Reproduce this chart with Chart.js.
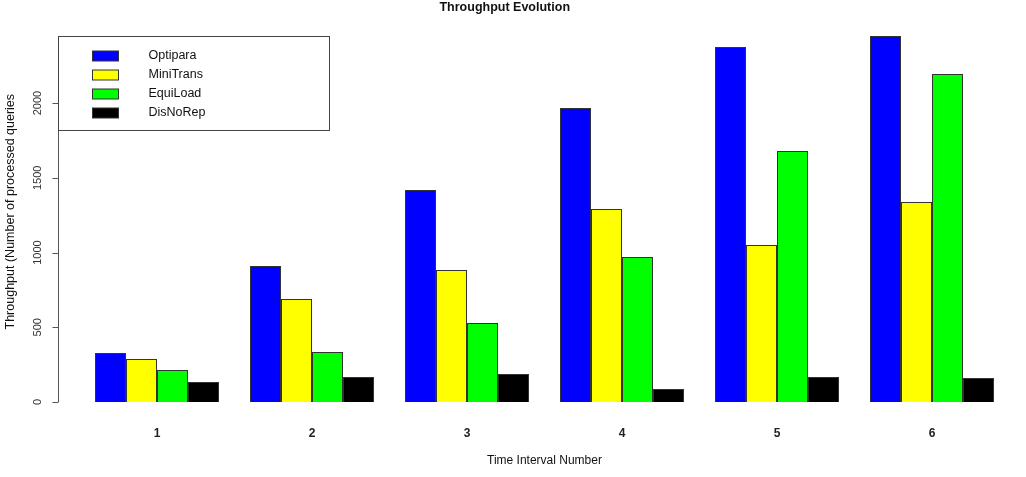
<!DOCTYPE html>
<html>
<head>
<meta charset="utf-8">
<script src="https://cdn.jsdelivr.net/npm/chart.js@4.4.0/dist/chart.umd.min.js"></script>
<style>
  html, body { margin: 0; padding: 0; background: #fff; }
</style>
</head>
<body>
<canvas id="throughputChart" width="1026" height="477"></canvas>
<script>
// data
const intervals = ['1', '2', '3', '4', '5', '6'];
const optipara = [328, 910, 1418, 1967, 2375, 2448];
const miniTrans = [288, 689, 883, 1291, 1050, 1338];
const equiLoad = [214, 334, 528, 970, 1679, 2194];
const disNoRep = [134, 167, 187, 87, 167, 160];
const yTicks = [0, 500, 1000, 1500, 2000];

const fontFamily = '"Liberation Sans", Arial, sans-serif';

// R style y axis (only spans the tick range) plus the boxed legend top-left
const rAxisAndLegend = {
    id: 'rAxisAndLegend',
    afterDraw(chart) {
        const ctx = chart.ctx;
        const yScale = chart.scales.y;
        const axisX = Math.round(chart.chartArea.left - 21.5) + 0.5;
        ctx.save();
        ctx.strokeStyle = '#555';
        ctx.lineWidth = 1;
        ctx.beginPath();
        ctx.moveTo(axisX, yScale.getPixelForValue(yTicks[0]));
        ctx.lineTo(axisX, yScale.getPixelForValue(yTicks[yTicks.length - 1]));
        yTicks.forEach(v => {
            const py = Math.round(yScale.getPixelForValue(v)) + 0.5;
            ctx.moveTo(axisX, py);
            ctx.lineTo(axisX - 6, py);
        });
        ctx.stroke();

        // legend
        const lx = axisX, ly = 36.5, lw = 271, lh = 94;
        ctx.strokeStyle = '#444';
        ctx.strokeRect(lx, ly, lw, lh);
        ctx.font = '12.5px ' + fontFamily;
        ctx.textBaseline = 'middle';
        chart.data.datasets.forEach((ds, i) => {
            const ry = Math.round(ly + 19 + i * 19.3);
            ctx.fillStyle = ds.backgroundColor;
            ctx.fillRect(lx + 34, ry - 5, 26, 10);
            ctx.strokeStyle = '#333';
            ctx.strokeRect(lx + 34, ry - 5, 26, 10);
            ctx.fillStyle = '#111';
            ctx.fillText(ds.label, lx + 90, ry);
        });
        ctx.restore();
    }
};

const ctx = document.getElementById('throughputChart').getContext('2d');
new Chart(ctx, {
    type: 'bar',
    data: {
        labels: intervals,
        datasets: [
            { label: 'Optipara', data: optipara, backgroundColor: '#0000ff' },
            { label: 'MiniTrans', data: miniTrans, backgroundColor: '#ffff00' },
            { label: 'EquiLoad', data: equiLoad, backgroundColor: '#00ff00' },
            { label: 'DisNoRep', data: disNoRep, backgroundColor: '#000000' }
        ].map(ds => Object.assign(ds, {
            borderColor: '#333',
            borderWidth: 1,
            categoryPercentage: 0.8,
            barPercentage: 1.0
        }))
    },
    options: {
        responsive: false,
        animation: false,
        devicePixelRatio: 1,
        layout: { padding: { left: 0, right: 16.5, top: 0, bottom: 0 } },
        plugins: {
            legend: { display: false },
            tooltip: { enabled: false },
            title: {
                display: true,
                text: 'Throughput Evolution',
                color: '#111',
                font: { family: fontFamily, size: 12.5, weight: 'bold' },
                padding: { top: 0, bottom: 6.4 }
            }
        },
        scales: {
            x: {
                grid: { display: false, drawTicks: false },
                border: { display: false },
                ticks: {
                    color: '#222',
                    padding: 24,
                    font: { family: fontFamily, size: 12, weight: 'bold' }
                },
                title: {
                    display: true,
                    text: 'Time Interval Number',
                    color: '#111',
                    font: { family: fontFamily, size: 12 },
                    padding: { top: 4, bottom: 9 }
                },
                afterFit(scale) {
                    scale.height = 75;
                    scale.paddingLeft = 0;
                    scale.paddingRight = 0;
                }
            },
            y: {
                min: 0,
                max: 2546,
                grid: { display: false, drawTicks: false },
                border: { display: false },
                afterBuildTicks(scale) {
                    scale.ticks = yTicks.map(v => ({ value: v }));
                },
                ticks: {
                    color: '#333',
                    minRotation: 90,
                    maxRotation: 90,
                    crossAlign: 'center',
                    padding: 29,
                    font: { family: fontFamily, size: 11 },
                    callback: value => String(value)
                },
                title: {
                    display: true,
                    text: 'Throughput (Number of processed queries',
                    color: '#111',
                    font: { family: fontFamily, size: 12.5 },
                    padding: { top: 3, bottom: 0 }
                },
                afterFit(scale) {
                    scale.width = 79.5;
                    scale.paddingTop = 0;
                    scale.paddingBottom = 0;
                }
            }
        }
    },
    plugins: [rAxisAndLegend]
});
</script>
</body>
</html>
